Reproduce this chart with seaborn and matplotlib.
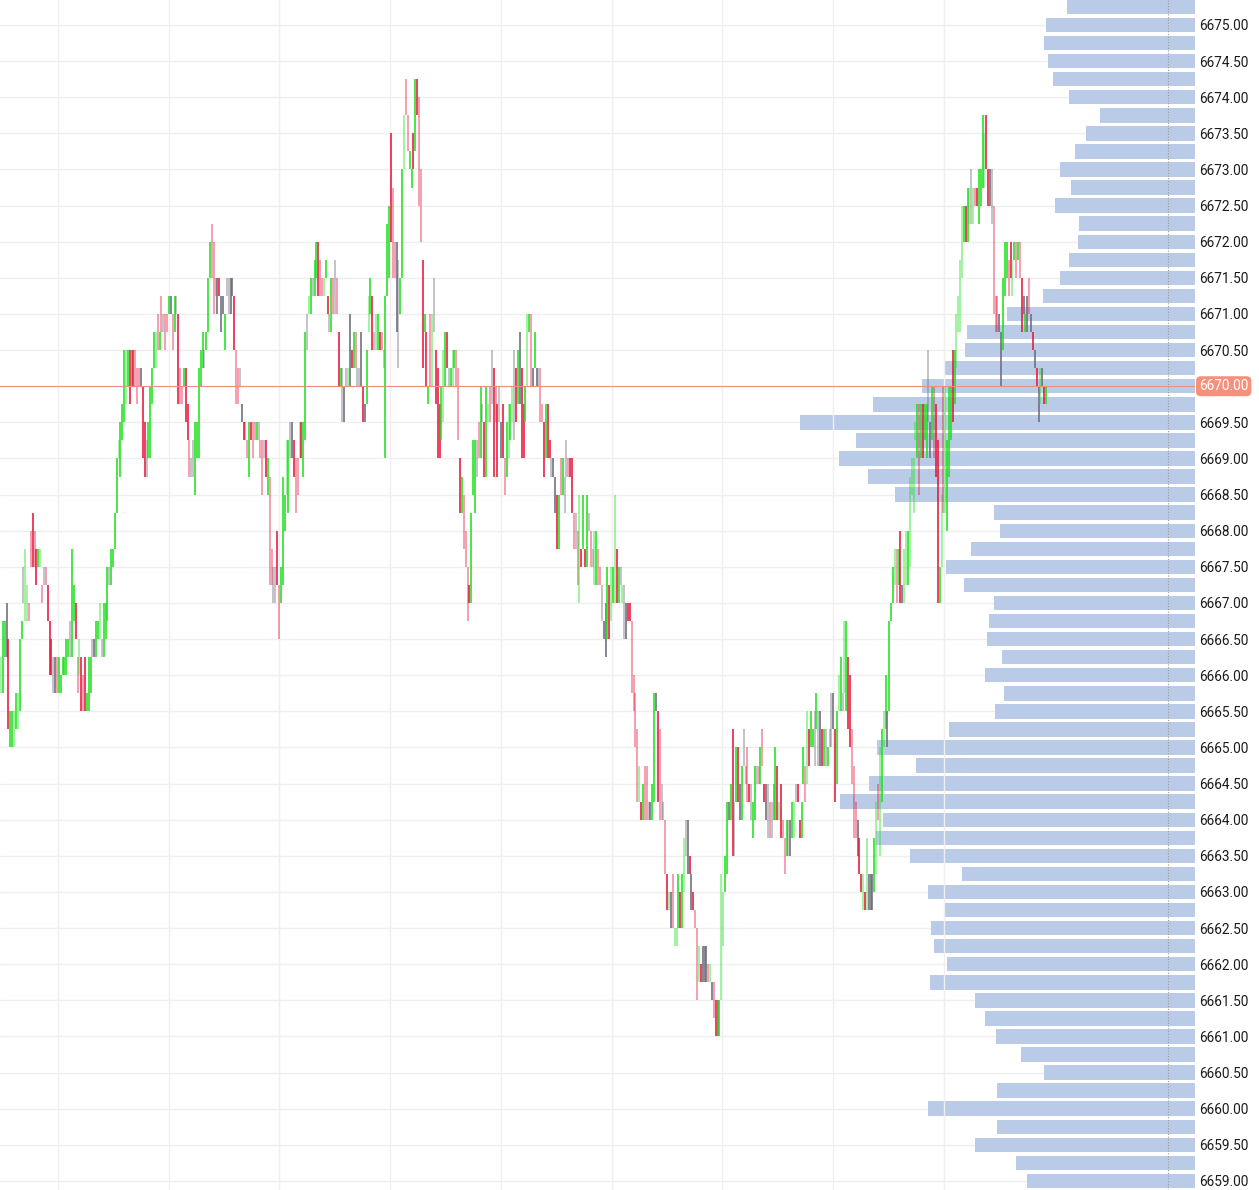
import numpy as np
import matplotlib
matplotlib.use("Agg")
import matplotlib.pyplot as plt
import matplotlib.transforms as mtransforms
from matplotlib.colors import to_rgba
import seaborn as sns

# volume profile, one bar per 0.25 price level (top to bottom)
profile_price = [
    6675.25, 6675.00, 6674.75, 6674.50, 6674.25, 6674.00, 6673.75, 6673.50, 6673.25, 6673.00,
    6672.75, 6672.50, 6672.25, 6672.00, 6671.75, 6671.50, 6671.25, 6671.00, 6670.75, 6670.50,
    6670.25, 6670.00, 6669.75, 6669.50, 6669.25, 6669.00, 6668.75, 6668.50, 6668.25, 6668.00,
    6667.75, 6667.50, 6667.25, 6667.00, 6666.75, 6666.50, 6666.25, 6666.00, 6665.75, 6665.50,
    6665.25, 6665.00, 6664.75, 6664.50, 6664.25, 6664.00, 6663.75, 6663.50, 6663.25, 6663.00,
    6662.75, 6662.50, 6662.25, 6662.00, 6661.75, 6661.50, 6661.25, 6661.00, 6660.75, 6660.50,
    6660.25, 6660.00, 6659.75, 6659.50, 6659.25, 6659.00,
]
profile_volume = [
    128, 149, 151, 147, 142, 126, 95, 109, 120, 135,
    124, 140, 116, 117, 126, 135, 152, 188, 228, 230,
    251, 273, 322, 395, 339, 356, 327, 300, 201, 195,
    224, 249, 231, 201, 206, 208, 193, 210, 191, 200,
    246, 318, 279, 326, 355, 312, 319, 285, 233, 267,
    250, 264, 261, 248, 265, 220, 210, 199, 174, 151,
    198, 267, 198, 220, 179, 168,
]

# price bars: low, high and colour kind
# G/g = up (solid/faded), R/r = down (solid/faded), d/k = neutral (solid/faded)
lows = [
    6665.75, 6665.75, 6666.25, 6666.25, 6665.25, 6665.0, 6665.0, 6665.0, 6665.25, 6665.25,
    6665.5, 6666.5, 6667.0, 6666.75, 6666.75, 6666.75, 6667.5, 6667.5, 6667.5, 6667.25,
    6667.5, 6667.5, 6667.0, 6667.25, 6667.25, 6666.75, 6666.0, 6666.0, 6665.75, 6665.75,
    6665.75, 6665.75, 6665.75, 6666.0, 6666.0, 6666.0, 6666.25, 6666.25, 6666.25, 6666.75,
    6666.5, 6665.75, 6666.0, 6665.5, 6665.5, 6665.5, 6665.5, 6665.5, 6665.75, 6666.25,
    6666.25, 6666.25, 6666.5, 6666.5, 6666.25, 6666.25, 6666.5, 6666.75, 6667.25, 6667.25,
    6667.5, 6667.75, 6668.25, 6669.0, 6668.75, 6669.25, 6669.5, 6669.75, 6670.0, 6669.75,
    6670.0, 6670.0, 6670.0, 6669.75, 6670.0, 6670.0, 6669.0, 6668.75, 6668.75, 6669.0,
    6669.0, 6669.75, 6670.25, 6670.25, 6670.5, 6670.5, 6670.75, 6670.75, 6670.5, 6670.75,
    6671.0, 6671.0, 6670.5, 6670.75, 6671.0, 6669.75, 6669.75, 6669.75, 6670.0, 6669.5,
    6669.25, 6668.75, 6668.75, 6668.75, 6668.5, 6669.0, 6669.0, 6670.0, 6670.25, 6670.25,
    6670.5, 6670.75,
    6671.5, 6671.5, 6671.0, 6671.25, 6671.0, 6671.25, 6670.75, 6671.0, 6670.5, 6671.25,
    6671.0, 6671.0, 6671.25, 6670.5, 6669.75, 6669.75, 6670.0, 6669.5, 6669.25, 6669.25,
    6669.0, 6668.75, 6669.25, 6669.0, 6669.25, 6669.25, 6669.25, 6669.0, 6668.5, 6669.0,
    6668.75, 6668.5, 6667.25, 6667.25, 6667.0, 6667.0, 6667.25, 6666.5, 6667.0, 6667.25,
    6668.0, 6668.5, 6668.25, 6669.0, 6669.0, 6668.75, 6668.25, 6668.5, 6669.0, 6669.0,
    6668.75, 6669.25, 6670.5, 6671.0, 6671.0, 6671.25, 6671.25, 6671.5, 6671.25, 6671.25,
    6671.25, 6671.25, 6671.5, 6671.0, 6670.75, 6670.75, 6671.0, 6671.0, 6671.0, 6670.0,
    6670.0, 6669.5,
    6669.5, 6670.0, 6670.0, 6670.0, 6670.25, 6670.25, 6670.25, 6670.0, 6670.0, 6670.0,
    6669.5, 6669.5, 6669.75, 6670.75, 6671.0, 6670.5, 6670.5, 6670.5, 6670.5, 6670.5,
    6670.5, 6670.25, 6669.0, 6671.25, 6671.5, 6672.0, 6671.5, 6671.5, 6670.75, 6670.25,
    6671.0, 6671.5, 6673.0, 6673.75, 6673.25, 6673.0, 6672.75, 6673.0, 6673.25, 6673.75,
    6672.5, 6672.0, 6670.25, 6670.75, 6670.0, 6669.75, 6670.0, 6670.0, 6670.75, 6669.75,
    6669.0, 6669.0, 6669.25, 6669.5, 6670.0, 6670.25, 6670.0, 6670.0, 6670.0, 6670.25,
    6670.0, 6669.25, 6668.25, 6668.25, 6667.75, 6667.5, 6666.75, 6667.0, 6667.0, 6668.5,
    6668.25, 6668.75, 6669.0, 6669.0, 6669.5, 6668.75, 6668.75, 6669.5, 6669.5, 6669.75,
    6668.75, 6669.5, 6668.75, 6669.5, 6669.0, 6669.0, 6668.5, 6668.75, 6669.0, 6669.25,
    6669.5, 6669.25, 6669.5, 6669.75, 6669.75, 6669.0, 6669.0, 6669.5, 6670.0, 6670.75,
    6670.0, 6670.0, 6670.25,
    6670.0, 6670.0, 6669.5, 6669.5, 6668.75, 6669.0, 6669.0, 6669.0, 6668.75, 6668.75,
    6668.25, 6667.75, 6667.75, 6668.5, 6668.5, 6668.25, 6668.75, 6668.75, 6668.75, 6668.25,
    6667.75, 6667.75, 6667.25, 6667.0, 6667.5, 6667.75, 6667.5, 6667.5, 6668.0, 6667.5,
    6667.5, 6667.25, 6667.25, 6667.25, 6667.25, 6666.75, 6666.5, 6666.25, 6666.5, 6666.5,
    6666.75, 6667.0, 6667.0, 6667.0, 6667.0, 6667.25, 6667.0, 6666.5, 6666.5, 6666.75,
    6666.75, 6665.75, 6665.5, 6665.0, 6664.25, 6664.25, 6664.0, 6664.0, 6664.0, 6664.0,
    6664.0, 6664.0, 6664.0, 6664.25, 6665.5, 6664.25, 6664.0, 6664.0, 6664.0, 6663.25,
    6662.75, 6662.75, 6662.5, 6662.5, 6662.25, 6662.25, 6662.5, 6662.5, 6662.5, 6663.0,
    6663.5, 6663.25, 6663.25,
    6662.75, 6662.75, 6662.5, 6661.5, 6661.75, 6661.75, 6661.75, 6661.75, 6661.75, 6661.75,
    6661.75, 6661.5, 6661.25, 6661.0, 6661.0, 6661.0, 6661.5, 6662.25, 6663.0, 6663.25,
    6664.0, 6664.0, 6663.5, 6663.5, 6664.25, 6664.25, 6664.0, 6664.0, 6664.75, 6664.5,
    6664.25, 6664.25, 6664.0, 6663.75, 6664.0, 6664.5, 6664.5, 6664.5, 6664.75, 6664.25,
    6664.0, 6663.75, 6663.75, 6663.75, 6664.0, 6664.0, 6664.0, 6664.0, 6663.75, 6663.75,
    6663.25, 6663.5, 6663.5, 6663.5, 6663.75, 6663.75, 6664.25, 6664.25, 6663.75, 6663.75,
    6664.5, 6664.25, 6664.5, 6664.75, 6665.0, 6665.0, 6664.75, 6665.25, 6664.75, 6664.75,
    6664.75, 6664.75, 6664.75, 6664.75, 6665.0, 6665.0, 6665.25, 6664.25, 6664.5, 6665.5,
    6665.5, 6665.5, 6665.75, 6665.5, 6665.25, 6665.0, 6664.5, 6663.75, 6663.75, 6663.5,
    6663.25, 6663.0, 6662.75, 6662.75, 6662.75, 6662.75, 6662.75, 6662.75, 6663.0, 6663.25,
    6664.0, 6663.5, 6664.25, 6665.0, 6665.25, 6665.0, 6665.5,
    6666.75, 6667.0, 6667.25, 6667.0, 6667.25, 6667.0, 6667.0, 6667.0, 6667.25, 6667.25,
    6667.5, 6668.5, 6668.25, 6669.25, 6669.0, 6668.5, 6669.0, 6669.0, 6669.25, 6669.0,
    6669.5, 6669.0, 6669.25, 6669.0, 6668.75, 6667.0, 6667.0, 6667.5, 6668.25, 6668.25,
    6668.0, 6668.75, 6669.25, 6669.5, 6669.75, 6670.25, 6670.75, 6670.75, 6671.5, 6672.0,
    6672.0, 6672.0, 6672.25, 6672.25, 6672.25, 6672.5, 6672.5, 6672.25, 6672.5, 6672.75,
    6672.75, 6673.0, 6672.5, 6672.5, 6672.25, 6671.0, 6670.75, 6670.75, 6670.75, 6670.0,
    6670.5, 6671.25, 6671.5, 6671.25, 6671.5, 6671.25, 6671.75, 6671.5, 6671.75,
    6671.5, 6670.75, 6671.0, 6670.75, 6670.75, 6671.0, 6670.75, 6670.5, 6670.25,
    6670.0, 6669.5, 6669.75, 6670.0, 6669.75, 6669.75,
]
highs = [
    6666.25, 6666.75, 6666.75, 6667.0, 6666.5, 6665.5, 6665.5, 6665.5, 6665.75, 6665.75,
    6666.5, 6666.75, 6667.5, 6667.75, 6667.25, 6667.0, 6668.0, 6668.25, 6668.0, 6667.75,
    6667.75, 6667.75, 6667.25, 6667.5, 6667.5, 6667.25, 6666.75, 6666.5, 6666.25, 6666.25,
    6666.25, 6666.25, 6666.0, 6666.25, 6666.25, 6666.5, 6666.5, 6666.75, 6667.75, 6667.25,
    6667.0, 6666.25, 6666.5, 6666.25, 6666.0, 6666.25, 6665.75, 6666.25, 6666.25, 6666.5,
    6666.5, 6666.75, 6666.75, 6667.0, 6666.5, 6667.0, 6667.0, 6667.5, 6667.5, 6667.75,
    6667.75, 6668.25, 6669.0, 6669.25, 6669.5, 6669.75, 6670.5, 6670.5, 6670.5, 6670.5,
    6670.5, 6670.5, 6670.5, 6670.25, 6670.25, 6670.25, 6670.0, 6669.5, 6669.25, 6669.5,
    6670.0, 6670.25, 6670.75, 6670.75, 6671.0, 6670.75, 6671.25, 6671.0, 6671.0, 6671.0,
    6671.25, 6671.25, 6671.0, 6671.25, 6671.25, 6671.0, 6670.25, 6670.0, 6670.25, 6670.25,
    6669.75, 6669.25, 6669.0, 6669.25, 6669.5, 6669.5, 6670.25, 6670.5, 6670.75, 6670.5,
    6670.75, 6671.5,
    6672.0, 6672.25, 6672.0, 6671.5, 6671.5, 6671.5, 6671.25, 6671.25, 6671.0, 6671.5,
    6671.5, 6671.5, 6671.5, 6671.25, 6670.5, 6670.25, 6670.25, 6669.75, 6669.5, 6669.5,
    6669.25, 6669.5, 6669.5, 6669.5, 6669.5, 6669.5, 6669.5, 6669.25, 6669.25, 6669.25,
    6669.25, 6669.0, 6668.75, 6667.75, 6667.5, 6667.5, 6668.0, 6667.25, 6667.5, 6668.75,
    6668.5, 6669.25, 6669.25, 6669.5, 6669.5, 6669.25, 6669.0, 6669.0, 6669.5, 6669.5,
    6669.5, 6670.75, 6671.0, 6671.25, 6671.5, 6671.5, 6671.75, 6672.0, 6672.0, 6671.75,
    6671.5, 6671.5, 6671.75, 6671.25, 6671.0, 6671.5, 6671.5, 6671.75, 6671.5, 6670.75,
    6670.25, 6670.25,
    6670.0, 6670.25, 6670.25, 6671.0, 6670.5, 6670.75, 6670.75, 6670.25, 6670.25, 6670.75,
    6670.0, 6669.75, 6670.5, 6671.25, 6671.5, 6671.25, 6670.75, 6671.0, 6671.0, 6670.75,
    6670.75, 6670.5, 6671.25, 6672.25, 6672.5, 6673.5, 6672.75, 6672.0, 6672.0, 6671.75,
    6671.5, 6673.0, 6673.75, 6674.25, 6673.75, 6673.25, 6673.0, 6673.5, 6674.25, 6674.25,
    6674.0, 6673.0, 6671.75, 6671.0, 6670.75, 6670.0, 6671.0, 6671.0, 6671.5, 6670.5,
    6670.25, 6669.75, 6670.0, 6670.5, 6670.75, 6670.75, 6670.25, 6670.25, 6670.5, 6670.5,
    6670.5, 6670.25, 6669.0, 6668.75, 6668.5, 6668.0, 6667.5, 6667.25, 6668.25, 6669.25,
    6669.25, 6669.25, 6669.5, 6670.0, 6669.75, 6669.5, 6670.0, 6669.75, 6670.0, 6670.5,
    6670.25, 6670.0, 6669.75, 6670.0, 6669.5, 6669.75, 6669.0, 6669.5, 6669.75, 6669.75,
    6670.0, 6670.5, 6670.25, 6670.5, 6670.75, 6670.25, 6669.75, 6670.0, 6671.0, 6671.0,
    6671.0, 6670.25, 6670.75,
    6670.25, 6670.25, 6670.25, 6669.75, 6669.5, 6669.75, 6669.75, 6669.25, 6669.0, 6669.0,
    6668.75, 6668.5, 6668.5, 6669.0, 6669.0, 6668.75, 6669.25, 6669.0, 6669.0, 6669.0,
    6668.25, 6668.25, 6668.0, 6668.5, 6667.75, 6668.5, 6667.75, 6668.5, 6668.25, 6668.0,
    6667.75, 6668.0, 6668.0, 6667.75, 6667.5, 6667.25, 6666.75, 6667.0, 6667.5, 6667.25,
    6667.5, 6667.5, 6668.5, 6667.75, 6667.5, 6667.5, 6667.25, 6667.25, 6667.0, 6667.0,
    6667.0, 6666.75, 6666.0, 6665.75, 6665.25, 6664.75, 6664.25, 6664.5, 6664.75, 6664.75,
    6664.25, 6664.25, 6664.5, 6665.75, 6665.75, 6665.5, 6665.25, 6664.5, 6664.25, 6664.0,
    6663.25, 6663.0, 6663.0, 6663.25, 6662.5, 6662.5, 6663.25, 6663.0, 6663.25, 6663.75,
    6664.0, 6664.0, 6663.5,
    6663.25, 6663.0, 6662.75, 6662.5, 6662.25, 6662.0, 6662.25, 6662.25, 6662.25, 6662.0,
    6662.0, 6661.75, 6661.75, 6661.5, 6661.5, 6661.5, 6663.25, 6663.0, 6663.5, 6664.25,
    6664.25, 6664.5, 6665.25, 6664.25, 6665.0, 6665.0, 6664.5, 6664.75, 6665.25, 6664.75,
    6665.0, 6664.5, 6664.5, 6664.25, 6664.75, 6664.75, 6664.75, 6665.0, 6665.25, 6664.5,
    6664.5, 6664.5, 6664.25, 6664.25, 6664.5, 6665.0, 6664.75, 6664.25, 6664.5, 6664.0,
    6663.75, 6664.0, 6664.0, 6664.0, 6664.25, 6664.25, 6664.5, 6664.5, 6664.0, 6664.25,
    6665.0, 6664.75, 6665.5, 6665.25, 6665.5, 6665.25, 6665.5, 6665.75, 6665.5, 6665.5,
    6665.25, 6665.25, 6665.25, 6665.0, 6665.25, 6665.75, 6665.75, 6665.25, 6665.5, 6666.0,
    6666.25, 6665.75, 6666.75, 6666.75, 6666.25, 6666.0, 6665.25, 6664.75, 6664.25, 6664.0,
    6663.75, 6663.25, 6663.25, 6663.0, 6663.75, 6663.25, 6663.25, 6663.25, 6663.75, 6664.25,
    6664.5, 6665.0, 6665.25, 6665.5, 6666.0, 6665.5, 6666.75,
    6667.0, 6667.5, 6667.75, 6667.75, 6667.75, 6668.0, 6667.25, 6667.75, 6668.0, 6668.0,
    6668.75, 6669.0, 6669.0, 6669.5, 6669.75, 6669.75, 6669.75, 6669.75, 6669.75, 6669.75,
    6670.5, 6669.5, 6670.0, 6670.0, 6669.75, 6669.25, 6667.5, 6668.5, 6670.0, 6670.0,
    6669.25, 6670.0, 6670.0, 6670.5, 6670.5, 6671.0, 6671.25, 6671.75, 6672.5, 6672.5,
    6672.5, 6672.75, 6672.75, 6673.0, 6672.75, 6672.75, 6672.75, 6673.0, 6673.0, 6673.75,
    6673.5, 6673.75, 6673.0, 6673.0, 6673.0, 6672.5, 6671.25, 6671.25, 6671.0, 6670.75,
    6671.5, 6672.0, 6672.0, 6671.75, 6672.0, 6671.75, 6672.0, 6672.0, 6672.0,
    6672.0, 6671.5, 6671.25, 6671.0, 6671.25, 6671.5, 6671.0, 6670.75, 6670.5,
    6670.25, 6670.0, 6670.25, 6670.25, 6670.0, 6670.0,
]
kinds = (
    "gGGdRGGgGg" "GGkggrrRrR" "GgrkrRRRkd" "rGGGGGGkGG" "RrgRrRGGGk" "dGGgkGGGkG"
    "GGGgGGGgGR" "GRrrrdRRkG" "GGGgrGrkrr" "GdrGkRrrGR" "RrkkGGGGGk" "GG"
    "GrrrdRddGk" "kddRrrkdRr" "rGRrrGkrrk" "RGrrkkRrGG" "GgGkdRrrgR" "GGkgGkGGRr"
    "rgGRkGrkrR" "Gk"
    "dkgdRGrkkd" "RdGgGRkgGR" "rkGGGRrrdk" "GGgrrGGRGR" "rrRGRGrgkR" "RRGgGRkGgG"
    "rrRGrrrRGG" "GkrGkRGgrk" "RrRkdRrGgG" "gkRGdRRGgG" "rdG"
    "dkrrRGRRkd" "dRGrGkkrRR" "rkrgRGRGkr" "kgGrrkddGR" "gGgRGkgkdR" "RrrrrgRGrr"
    "kdGGdRrkkr" "RgdrggGRGg" "kdR"
    "dRrrgRdddr" "gdrRdGggGG" "dGRkGRdGkr" "rRkGGkrGrR" "dkrkGGRgRr" "rGkdGgkRRG"
    "GrgRGGkGkd" "RGkGkkdRGg" "GkgGRRrrrd" "RRgRgdddGg" "rgGgGdG"
    "GGgrGRdggG" "ggggGrGRGG" "kdGrRRGgrg" "GGGRGggggG" "RGgkgrRGGG" "gRRdkrrrdd"
    "GGGrRgGrG" "rRdGdrdRd" "RdgdRG"
)
last_price = 6670.00

assert len(lows) == len(highs) == len(kinds)

sns.set_theme(style="white")
plt.rcParams["font.family"] = ["Roboto", "DejaVu Sans"]

W, H = 1259, 1190
plot_w = 1195
fig = plt.figure(figsize=(W / 100, H / 100), dpi=100)
fig.patch.set_facecolor("white")

# bottom axes: volume profile + price scale
ax = fig.add_axes([0, 0, plot_w / W, 1])
sns.barplot(x=profile_volume, y=profile_price, orient="h", native_scale=True,
            width=0.8, color="#b9cbe6", saturation=1, linewidth=0,
            errorbar=None, ax=ax, zorder=2)
ax.set_xlim(plot_w, 0)
ax.set_ylim(6658.875, 6675.346)
ax.set_xticks([])
ax.set_xlabel("")
ax.set_ylabel("")
ticks = np.arange(6659.0, 6675.01, 0.5)
ax.set_yticks(ticks)
ax.set_yticklabels(["" if abs(t - last_price) < 1e-9 else f"{t:.2f}" for t in ticks])
ax.yaxis.tick_right()
ax.tick_params(axis="y", length=0, pad=3, labelsize=9.8, labelcolor="#1a1a1a")
ax.grid(axis="y", color="#efefef", lw=1.0)
ax.set_axisbelow(True)
ax.axvline(plot_w - 1168, color="#9c9c9c", lw=0.8, ls=(0, (1, 1.5)), zorder=3)
for s in ax.spines.values():
    s.set_visible(False)

# top axes: price bars
axc = ax.twiny()
n = len(lows)
step = 1045 / (n - 1)
axc.set_xlim(-1 / step, (plot_w - 1) / step)
axc.set_xticks([(58 + 110.7 * k - 1) / step for k in range(9)])
axc.tick_params(axis="x", length=0, labeltop=False, labelbottom=False)
axc.grid(axis="x", color="#efefef", lw=1.0)
axc.set_axisbelow(True)
for s in axc.spines.values():
    s.set_visible(False)

base = {"G": ("#20e020", 1.0), "g": ("#20e020", 0.5),
        "R": ("#e8163c", 1.0), "r": ("#e8163c", 0.5),
        "d": ("#6c6c7a", 1.0), "k": ("#6c6c7a", 0.5)}
cols = [to_rgba(base[c][0], base[c][1]) for c in kinds]
axc.vlines(np.arange(n), lows, highs, colors=cols, lw=1.15, zorder=3)

axc.axhline(last_price, color="#f0907c", lw=0.8, zorder=4)

trans = mtransforms.blended_transform_factory(fig.transFigure, ax.transData)
ax.text(1199 / W, last_price, f"{last_price:.2f}", transform=trans, ha="left", va="center",
        fontsize=9.8, color="white", clip_on=False, zorder=6,
        bbox=dict(boxstyle="round,pad=0.22,rounding_size=0.35", fc="#f4917c", ec="none"))

fig.savefig("out.png", dpi=100)
